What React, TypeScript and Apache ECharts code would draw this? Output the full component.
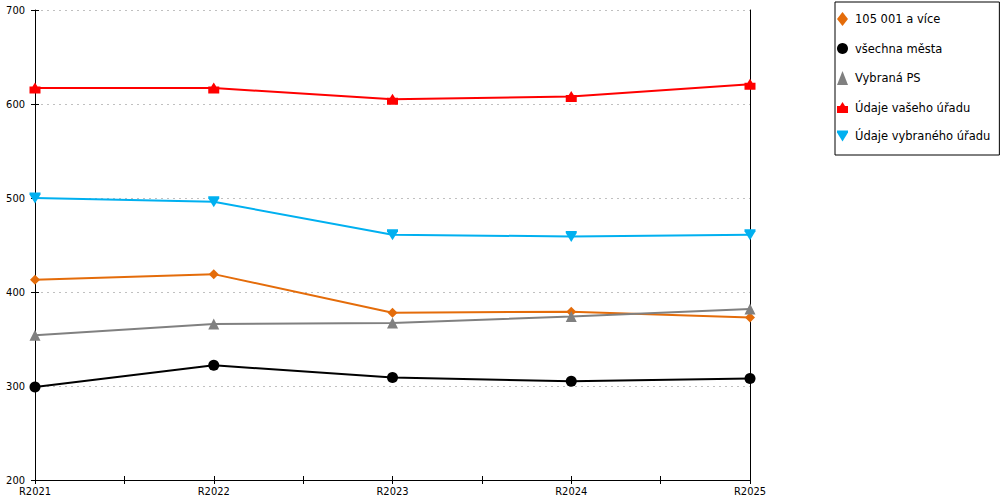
import React, { useEffect, useRef } from "react";
import * as echarts from "echarts";

const categories = ["R2021", "R2022", "R2023", "R2024", "R2025"];
const yTicks = [200, 300, 400, 500, 600, 700];

const seriesNames = [
  "105 001 a více",
  "všechna města",
  "Vybraná PS",
  "Údaje vašeho úřadu",
  "Údaje vybraného úřadu",
];
const values105001 = [413, 419, 378, 379, 373];
const valuesAllCities = [299, 322, 309, 305, 308];
const valuesSelectedPS = [354, 366, 367, 374, 382];
const valuesYourOffice = [617, 617, 605, 608, 621];
const valuesSelectedOffice = [500, 496, 461, 459, 461];

const HOUSE = "path://M0,4 L3,4 L5.5,0 L8,4 L11,4 L11,11 L0,11 Z";
const DOWN = "path://M0,0 L11,0 L11,2 L5.5,11 L0,2 Z";

const FONT = "'DejaVu Sans Condensed', 'DejaVu Sans', sans-serif";
const LEGEND_FONT = "'DejaVu Sans', sans-serif";

export default function App() {
  const ref = useRef<HTMLDivElement>(null);
  useEffect(() => {
    if (!ref.current) return;
    const chart = echarts.init(ref.current, undefined, { renderer: "svg" });
    const toPts = (arr: number[]) => arr.map((v, i) => [i, v]);
    const defs = [
      { name: seriesNames[0], data: values105001, color: "#E46C0A", symbol: "diamond", size: 10 },
      { name: seriesNames[1], data: valuesAllCities, color: "#000000", symbol: "circle", size: 11 },
      { name: seriesNames[2], data: valuesSelectedPS, color: "#808080", symbol: "triangle", size: 11 },
      { name: seriesNames[3], data: valuesYourOffice, color: "#FF0000", symbol: HOUSE, size: 11 },
      { name: seriesNames[4], data: valuesSelectedOffice, color: "#00B0F0", symbol: DOWN, size: 11 },
    ];
    const yMin = yTicks[0];
    const yMax = yTicks[yTicks.length - 1];
    const yInt = yTicks[1] - yTicks[0];
    chart.setOption({
      animation: false,
      textStyle: { fontFamily: FONT },
      grid: { left: 35, right: 250, top: 10, bottom: 20, containLabel: false },
      legend: {
        orient: "vertical",
        left: 835,
        top: 2,
        borderColor: "#000",
        borderWidth: 1,
        padding: [10, 9, 13, 2],
        itemGap: 16.5,
        itemWidth: 11,
        itemHeight: 14,
        textStyle: { fontFamily: LEGEND_FONT, fontSize: 11.5, color: "#000", padding: [0, 0, 0, 2] },
        data: defs.map((d) => ({
          name: d.name,
          icon: d.symbol,
          itemStyle: { color: d.color },
        })),
      },
      xAxis: [
        {
          type: "value",
          min: 0,
          max: categories.length - 1,
          interval: 0.5,
          axisLine: { show: true, lineStyle: { color: "#000", width: 1 } },
          axisTick: { show: true, length: 4, lineStyle: { color: "#000" } },
          splitLine: { show: false },
          axisLabel: {
            color: "#000",
            fontSize: 11,
            fontFamily: FONT,
            margin: 6,
            showMinLabel: true,
            showMaxLabel: true,
            formatter: (v: number) => (Number.isInteger(v) ? categories[v] : ""),
          },
        },
        {
          type: "value",
          position: "bottom",
          min: 0,
          max: categories.length - 1,
          interval: 0.5,
          axisLine: { show: false },
          axisTick: { show: true, inside: true, length: 4, lineStyle: { color: "#000" } },
          splitLine: { show: false },
          axisLabel: { show: false },
        },
      ],
      yAxis: [
        {
          type: "value",
          min: yMin,
          max: yMax,
          interval: yInt,
          axisLine: { show: true, lineStyle: { color: "#000", width: 1 } },
          axisTick: { show: true, length: 4, lineStyle: { color: "#000" } },
          splitLine: { show: true, lineStyle: { color: "#C0C0C0", type: [2, 4], width: 1 } },
          axisLabel: { color: "#000", fontSize: 11, fontFamily: FONT, margin: 10 },
        },
        {
          type: "value",
          position: "left",
          min: yMin,
          max: yMax,
          interval: yInt,
          axisLine: { show: false },
          axisTick: { show: true, inside: true, length: 4, lineStyle: { color: "#000" } },
          splitLine: { show: false },
          axisLabel: { show: false },
        },
        {
          type: "value",
          position: "right",
          min: yMin,
          max: yMax,
          interval: yInt,
          axisLine: { show: true, lineStyle: { color: "#000", width: 1 } },
          axisTick: { show: false },
          splitLine: { show: false },
          axisLabel: { show: false },
        },
      ],
      series: defs.map((d) => ({
        type: "line",
        name: d.name,
        data: toPts(d.data),
        xAxisIndex: 0,
        yAxisIndex: 0,
        symbol: d.symbol,
        symbolSize: d.size,
        showAllSymbol: true,
        lineStyle: { color: d.color, width: 2 },
        itemStyle: { color: d.color },
        emphasis: { disabled: true },
      })),
    });
    return () => chart.dispose();
  }, []);
  return (
    <div
      ref={ref}
      style={{ position: "absolute", left: 0, top: 0, width: 1000, height: 500, background: "#fff" }}
    />
  );
}
